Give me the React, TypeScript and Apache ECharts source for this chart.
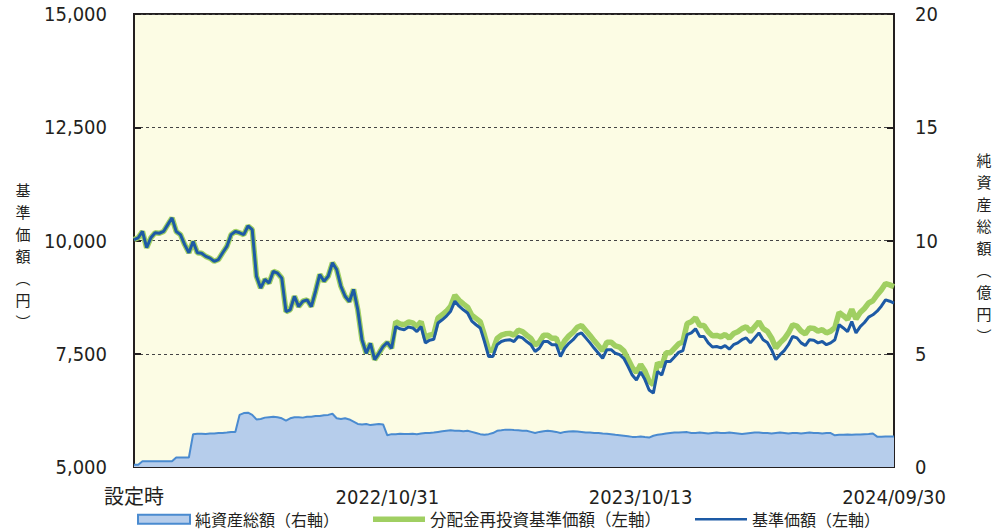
import React, { useEffect, useRef } from "react";
import * as echarts from "echarts";

const tickLabels = ["設定時", "2022/10/31", "2023/10/13", "2024/09/30"];
const pointsPerTick = 60;

// 基準価額（左軸）
const baseValues = [
  10020, 10060, 10200, 9840, 10060, 10170, 10160, 10200, 10350, 10500, 10200,
  10130, 9910, 9730, 9980, 9730, 9720, 9650, 9610, 9540, 9580,
  9730, 9870, 10130, 10200, 10170, 10130, 10320, 10240, 9210, 8950,
  9140, 9060, 9320, 9280, 9170, 8430, 8470, 8770, 8540, 8660,
  8690, 8540, 8880, 9250, 9100, 9210, 9510, 9360, 8990, 8770,
  8650, 8920, 8470, 7810, 7510, 7730, 7370, 7510, 7660, 7750,
  7620, 8100, 8050, 8030, 8090, 8070, 7990, 8100, 7740, 7800,
  7820, 8180, 8250, 8330, 8440, 8660, 8550, 8470, 8400, 8220,
  8140, 8070, 7770, 7440, 7440, 7700, 7770, 7800, 7810, 7770,
  7880, 7850, 7770, 7700, 7550, 7620, 7770, 7770, 7700, 7700,
  7440, 7620, 7730, 7810, 7920, 7960, 7850, 7740, 7620, 7510,
  7400, 7590, 7590, 7510, 7480, 7400, 7220, 7030, 6920, 7100,
  6930, 6700, 6630, 7110, 7030, 7330, 7330, 7430, 7530, 7570,
  7920, 7960, 8050, 7880, 7880, 7740, 7650, 7660, 7630, 7680,
  7600, 7700, 7740, 7810, 7850, 7740, 7850, 7960, 7810, 7750,
  7590, 7370, 7480, 7570, 7700, 7880, 7850, 7740, 7680, 7810,
  7800, 7740, 7770, 7700, 7740, 7810, 8140, 8070, 7990, 8210,
  7960, 8100, 8190, 8310, 8360, 8440, 8550, 8690, 8660, 8620,
];

// 分配金再投資基準価額（左軸）
const reinvestValues = [
  10020, 10060, 10200, 9840, 10060, 10170, 10160, 10200, 10350, 10500, 10200,
  10130, 9910, 9730, 9980, 9730, 9720, 9650, 9610, 9540, 9580,
  9730, 9870, 10130, 10200, 10170, 10130, 10320, 10240, 9210, 8950,
  9140, 9060, 9320, 9280, 9170, 8430, 8470, 8770, 8540, 8660,
  8690, 8540, 8880, 9250, 9100, 9210, 9510, 9360, 8990, 8770,
  8650, 8920, 8470, 7810, 7510, 7730, 7370, 7510, 7660, 7750,
  7620, 8210, 8160, 8140, 8200, 8180, 8100, 8210, 7850, 7910,
  7930, 8290, 8360, 8440, 8550, 8790, 8680, 8600, 8530, 8350,
  8280, 8210, 7910, 7580, 7580, 7840, 7910, 7940, 7950, 7910,
  8020, 7990, 7910, 7840, 7690, 7760, 7910, 7910, 7840, 7840,
  7605, 7785, 7895, 7975, 8085, 8125, 8015, 7905, 7785, 7675,
  7565, 7755, 7755, 7675, 7645, 7565, 7385, 7195, 7085, 7265,
  7120, 6890, 6820, 7300, 7220, 7520, 7520, 7620, 7720, 7760,
  8165, 8205, 8295, 8125, 8125, 7985, 7895, 7905, 7875, 7925,
  7845, 7945, 7985, 8055, 8095, 7985, 8095, 8205, 8055, 7995,
  7850, 7630, 7740, 7830, 7960, 8140, 8110, 8000, 7940, 8070,
  8060, 8000, 8030, 7960, 8000, 8080, 8410, 8340, 8260, 8480,
  8270, 8410, 8500, 8620, 8670, 8800, 8910, 9050, 9020, 8980,
];

// 純資産総額（右軸、億円）
const netAssets = [
  0.1, 0.1,
  0.25, 0.25, 0.25, 0.25, 0.25, 0.25, 0.25, 0.25,
  0.42, 0.42, 0.42, 0.42,
  1.45, 1.47, 1.47, 1.46, 1.48, 1.48, 1.5, 1.5, 1.52, 1.55, 1.55,
  2.3, 2.38, 2.4, 2.3,
  2.1, 2.12,
  2.18, 2.2, 2.22, 2.2, 2.15,
  2.05,
  2.15, 2.2, 2.2, 2.18, 2.22, 2.22, 2.25, 2.25, 2.28, 2.3,
  2.35,
  2.15, 2.12, 2.15, 2.1, 2.0, 1.9,
  1.88, 1.9, 1.85, 1.88, 1.9, 1.88,
  1.4, 1.45, 1.45, 1.47, 1.46, 1.46, 1.47, 1.45, 1.48, 1.5, 1.5, 1.52, 1.55, 1.58,
  1.6, 1.62, 1.6, 1.6, 1.58, 1.6, 1.55, 1.5, 1.45, 1.42,
  1.45, 1.5, 1.6, 1.62, 1.65, 1.65, 1.63, 1.62, 1.6, 1.6, 1.55, 1.5, 1.55, 1.58, 1.6, 1.58, 1.55,
  1.5, 1.55, 1.57, 1.58, 1.57, 1.55, 1.52, 1.52, 1.5, 1.5, 1.48, 1.47,
  1.45, 1.42, 1.4, 1.38, 1.36, 1.33, 1.33, 1.35, 1.32, 1.3,
  1.38, 1.42, 1.45, 1.48, 1.5, 1.52, 1.52, 1.53, 1.54,
  1.5, 1.5, 1.52, 1.5, 1.48, 1.5, 1.52, 1.5, 1.5, 1.52,
  1.5, 1.48, 1.46, 1.48, 1.5, 1.52, 1.52, 1.5, 1.5, 1.48,
  1.5, 1.52, 1.5, 1.48, 1.5, 1.5, 1.48, 1.5, 1.52, 1.5,
  1.5, 1.48, 1.5, 1.5,
  1.4, 1.42, 1.42, 1.43, 1.42, 1.43, 1.44, 1.45, 1.46, 1.48,
  1.34, 1.34, 1.35, 1.35, 1.35,
];

const seriesNames = ["純資産総額（右軸）", "分配金再投資基準価額（左軸）", "基準価額（左軸）"];
const leftAxisName = "基準価額（円）";
const rightAxisName = "純資産総額（億円）";

const categories = baseValues.map((_, i) => String(i));

const TEXT = "#231f20";
const NUM_FONT = '"DejaVu Sans Condensed", "Liberation Sans", "Noto Sans CJK JP", sans-serif';
const CJK_FONT = '"Noto Sans CJK JP", sans-serif';

const verticalize = (s: string) =>
  s.replace("（", "︵").replace("）", "︶").split("").join("\n");

export default function App() {
  const ref = useRef<HTMLDivElement>(null);
  useEffect(() => {
    if (!ref.current) return;
    const chart = echarts.init(ref.current, undefined, { renderer: "svg" });
    chart.setOption({
      animation: false,
      grid: {
        left: 134,
        right: 107,
        top: 14,
        bottom: 65,
        show: true,
        backgroundColor: "#fcfce4",
        borderColor: TEXT,
        borderWidth: 2,
      },
      graphic: [
        {
          type: "text",
          x: 23,
          y: 178,
          style: {
            text: verticalize(leftAxisName),
            fontFamily: CJK_FONT,
            fontSize: 15,
            lineHeight: 22,
            fill: TEXT,
            align: "center",
            verticalAlign: "top",
          },
        },
        {
          type: "text",
          x: 984,
          y: 148,
          style: {
            text: verticalize(rightAxisName),
            fontFamily: CJK_FONT,
            fontSize: 15,
            lineHeight: 22,
            fill: TEXT,
            align: "center",
            verticalAlign: "top",
          },
        },
      ],
      legend: {
        left: 137,
        top: 511,
        padding: 0,
        itemWidth: 52,
        itemHeight: 9,
        itemGap: 34,
        textStyle: { fontFamily: CJK_FONT, fontSize: 16, color: TEXT },
        data: [
          {
            name: seriesNames[0],
            icon: "rect",
            itemStyle: { color: "#b6cdeb", borderColor: "#4a8bd0", borderWidth: 2 },
          },
          {
            name: seriesNames[1],
            icon: "path://M0 0H52V5.5H0Z",
            itemStyle: { color: "#a0cf62" },
            textStyle: { fontSize: 16.5 },
          },
          {
            name: seriesNames[2],
            icon: "path://M0 0H52V2.6H0Z",
            itemStyle: { color: "#1d5aa5" },
          },
        ],
      },
      xAxis: {
        type: "category",
        data: categories,
        boundaryGap: false,
        axisLine: { lineStyle: { color: TEXT, width: 2 } },
        axisTick: {
          inside: true,
          length: 6,
          interval: pointsPerTick - 1,
          lineStyle: { color: TEXT, width: 2 },
        },
        axisLabel: {
          interval: pointsPerTick - 1,
          margin: 20,
          fontFamily: NUM_FONT,
          fontSize: 20,
          color: TEXT,
          formatter: (_v: string, idx: number) =>
            idx % pointsPerTick === 0 ? tickLabels[idx / pointsPerTick] : "",
        },
        splitLine: { show: false },
      },
      yAxis: [
        {
          type: "value",
          min: 5000,
          max: 15000,
          interval: 2500,
          position: "left",
          axisLine: { show: true, lineStyle: { color: TEXT, width: 2 } },
          axisTick: { show: true, inside: true, length: 7, lineStyle: { color: TEXT, width: 2 } },
          axisLabel: {
            margin: 27,
            fontFamily: NUM_FONT,
            fontSize: 20,
            color: TEXT,
            formatter: (v: number) => v.toLocaleString("en-US"),
          },
          splitLine: { show: true, lineStyle: { color: "#444", width: 1, type: [3, 3] } },
        },
        {
          type: "value",
          min: 0,
          max: 20,
          interval: 5,
          position: "right",
          axisLine: { show: true, lineStyle: { color: TEXT, width: 2 } },
          axisTick: { show: true, inside: true, length: 7, lineStyle: { color: TEXT, width: 2 } },
          axisLabel: { margin: 21, fontFamily: NUM_FONT, fontSize: 20, color: TEXT },
          splitLine: { show: false },
        },
      ],
      series: [
        {
          name: seriesNames[0],
          type: "line",
          yAxisIndex: 1,
          data: netAssets,
          symbol: "none",
          lineStyle: { color: "#4a8bd0", width: 2 },
          itemStyle: { color: "#b6cdeb" },
          areaStyle: { color: "#b6cdeb", opacity: 1 },
          z: 1,
        },
        {
          name: seriesNames[1],
          type: "line",
          data: reinvestValues,
          symbol: "none",
          lineStyle: { color: "#a0cf62", width: 5.5 },
          itemStyle: { color: "#a0cf62" },
          z: 2,
        },
        {
          name: seriesNames[2],
          type: "line",
          data: baseValues,
          symbol: "none",
          lineStyle: { color: "#1d5aa5", width: 3 },
          itemStyle: { color: "#1d5aa5" },
          z: 3,
        },
      ],
    });
    return () => chart.dispose();
  }, []);
  return <div ref={ref} style={{ width: 1001, height: 532, position: "absolute", left: 0, top: 0 }} />;
}
